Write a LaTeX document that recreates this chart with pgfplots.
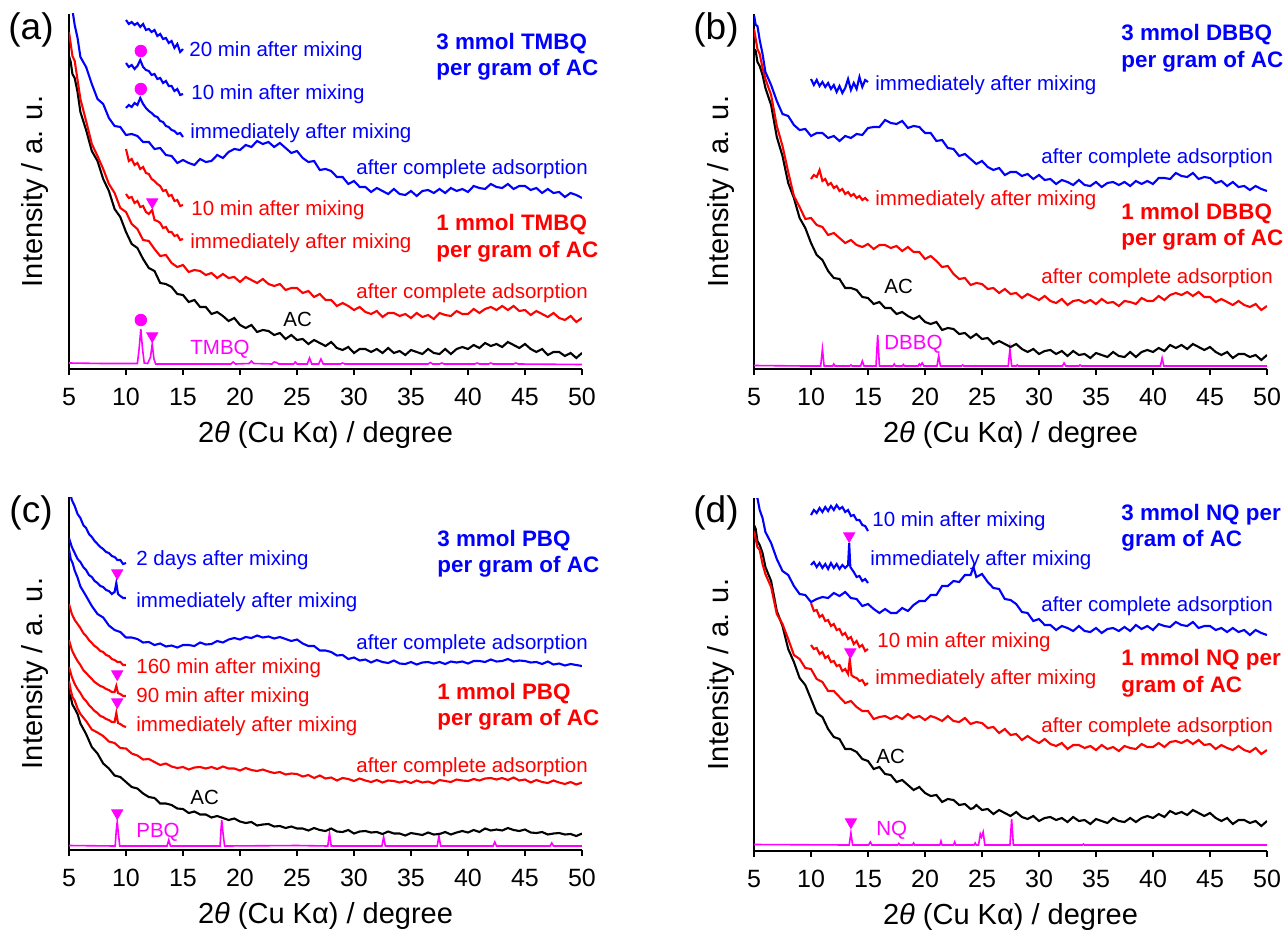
\documentclass[border=0pt]{standalone}
\usepackage{fontspec}
\setmainfont{Liberation Sans}
\usepackage{pgfplots}
\pgfplotsset{compat=1.18}
\usepackage{pgfplotstable}

\definecolor{xblue}{RGB}{0,0,255}
\definecolor{xred}{RGB}{255,0,0}
\definecolor{xmag}{RGB}{255,0,255}

\newcommand\ann{\fontsize{10.25}{12}\selectfont}
\newcommand\bann{\fontsize{11.2}{13}\selectfont\bfseries}
\newcommand\plab{\fontsize{18.5}{20}\selectfont}
\newcommand\axl{\fontsize{14.5}{16}\selectfont}

% columns: x, blue (after complete adsorption), red (after complete adsorption), black (AC)
% y values: height above the x axis, in pixels of the reference
\pgfplotstableread{
x b r k
5.0 402 337 313
5.15 378 325 307
5.3 359 313 295
5.5 344 308 291
5.75 331 289 277
6.0 312 270 257
6.5 302 248 239
7.0 285 225 218
7.5 270 213 208
8.0 265 200 190
8.5 251 185 178
9.0 243 176 160
9.5 242 161 152
10 234 157 137
10.5 235 145 125
11 233 140 121
11.5 227 129 110
12 227 128 101
12.5 220 120 98
13 221 113 86
13.5 214 114 85
14 213 106 82
14.5 206 102 75
15 209 104 74
15.5 206 97 67
16 204 99 69
16.5 210 98 62
17 207 94 62
17.5 208 96 55
18 214 91 57
18.5 211 95 53
19 217 91 48
19.5 220 92 51
20 219 87 44
20.5 224 92 41
21 222 89 44
21.5 228 86 37
22 225 90 39
22.5 227 85 38
23 222 83 34
23.5 226 85 36
24 221 79 30
24.5 216 81 34
25 218 81 29
25.5 211 76 30
26 207 78 25
26.5 208 72 29
27 199 75 26
27.5 200 69 23
28 198 69 27
28.5 192 63 21
29 192 66 19
29.5 185 63 22
30 188 59 16
30.5 182 62 20
31 182 57 20
31.5 177 55 17
32 181 58 20
32.5 178 52 16
33 175 56 21
33.5 180 56 16
34 175 53 18
34.5 174 55 14
35 178 51 19
35.5 173 56 17
36 178 52 15
36.5 179 54 20
37 176 50 16
37.5 180 56 15
38 176 54 20
38.5 181 53 15
39 178 58 20
39.5 180 55 22
40 177 55 20
40.5 183 60 24
41 181 56 21
41.5 180 60 26
42 185 62 23
42.5 182 59 25
43 181 63 22
43.5 185 59 27
44 180 63 24
44.5 183 58 21
45 183 59 25
45.5 179 54 20
46 181 58 17
46.5 176 55 20
47 180 52 14
47.5 176 56 17
48 177 51 17
48.5 172 49 13
49 176 53 16
49.5 174 47 11
50 171 51 16
}\tabA

\pgfplotstableread{
x b r k
5.0 354 340 320
5.15 344 330 318
5.3 343 320 307
5.5 329 315 303
5.75 315 301 294
6.0 297 290 281
6.5 284 274 264
7.0 268 243 232
7.5 255 223 213
8.0 253 197 186
8.5 244 173 171
9.0 239 162 151
9.5 240 150 141
10 233 151 126
10.5 236 144 114
11 236 142 109
11.5 231 134 98
12 233 136 91
12.5 228 131 90
13 233 126 81
13.5 231 129 81
14 235 124 79
14.5 234 122 72
15 241 125 71
15.5 242 120 65
16 242 124 67
16.5 249 124 61
17 246 121 61
17.5 245 123 55
18 248 118 57
18.5 241 122 53
19 243 117 50
19.5 242 117 53
20 236 110 47
20.5 236 113 45
21 228 108 47
21.5 229 102 39
22 221 103 41
22.5 220 95 40
23 213 90 35
23.5 215 91 36
24 210 84 31
24.5 205 86 35
25 208 85 30
25.5 202 80 31
26 199 81 25
26.5 201 76 28
27 194 80 25
27.5 197 75 22
28 197 76 25
28.5 193 71 20
29 195 75 17
29.5 190 72 20
30 194 69 15
30.5 189 73 18
31 190 68 19
31.5 185 66 15
32 189 70 18
32.5 187 64 13
33 184 68 18
33.5 189 69 14
34 184 66 15
34.5 183 69 11
35 187 65 16
35.5 182 70 14
36 186 66 12
36.5 187 67 17
37 184 63 13
37.5 187 68 12
38 183 67 17
38.5 188 65 12
39 185 71 17
39.5 188 68 19
40 185 68 17
40.5 191 73 21
41 191 69 18
41.5 190 74 24
42 196 76 21
42.5 193 74 24
43 192 77 20
43.5 196 73 25
44 190 77 22
44.5 192 72 19
45 191 72 22
45.5 186 67 17
46 188 70 14
46.5 183 67 17
47 187 64 11
47.5 182 68 15
48 183 64 15
48.5 179 62 12
49 183 65 14
49.5 180 59 9
50 178 63 14
}\tabB

\pgfplotstableread{
x b r k
5.0 301 169 157
5.15 291 160 153
5.3 287.5 153 145.5
5.5 279.5 149.5 141.5
5.75 272.5 141.5 136
6.0 263.5 136 126.5
6.5 254 129 116
7.0 244 120.5 103
7.5 236 117.5 96.5
8.0 232.5 114 86.5
8.5 224.5 108.5 81.5
9.0 220 107 74.5
9.5 218 102 73
10 212.5 101.5 68
10.5 212.5 96.5 63
11 211 94.5 61.5
11.5 207.5 90.5 56.5
12 208 91 53
12.5 205 88 52
13 206.5 85 46.5
13.5 203.5 86.5 46.5
14 204.5 83.5 45
14.5 202.5 82 41.5
15 205 83 41
15.5 205 80.5 37
16 204 82.5 38.5
16.5 207.5 83 35.5
17 205.5 81.5 35.5
17.5 206 83 32.5
18 209 81 34
18.5 207.5 83.5 32
19 210.5 81.5 30
19.5 212 81.5 31.5
20 210.5 79.5 28.5
20.5 213 82 27
21 212 80 28
21.5 214.5 79 24.5
22 212.5 80.5 25.5
22.5 213.5 78.5 26
23 211.5 77 23.5
23.5 213 78 24
24 211 75.5 22
24.5 209 76.5 23.5
25 210.5 76 21.5
25.5 206.5 73.5 21.5
26 204 75 19.5
26.5 204 72 22
27 199.5 74.5 20
27.5 199.5 71.5 19
28 198 72.5 21.5
28.5 194.5 69.5 18.5
29 195 72 18
29.5 191 71 20
30 192.5 69 16.5
30.5 189.5 71.5 18.5
31 190.5 69.5 19
31.5 187.5 68 17.5
32 190 70 18
32.5 188 67.5 16
33 187 69.5 18.5
33.5 189.5 69 16.5
34 186.5 67.5 16.5
34.5 186 69 14.5
35 188 67 17
35.5 185.5 69.5 16
36 187.5 67.5 15
36.5 188 68.5 17.5
37 186.5 66.5 15.5
37.5 188 70 16
38 186 69 18
38.5 188.5 68 15.5
39 187.5 70.5 17.5
39.5 188.5 69.5 19
40 186.5 69 17.5
40.5 189 71 20
41 189 69.5 18
41.5 188 71.5 21.5
42 190.5 72 19.5
42.5 188.5 70.5 20.5
43 189 72 19.5
43.5 191 70 22
44 188.5 72.5 20
44.5 189.5 69.5 19
45 189 70.5 20.5
45.5 187.5 67.5 17.5
46 188 70 17
46.5 186 68 18
47 188.5 67 15.5
47.5 185.5 69.5 16.5
48 186.5 67.5 17
48.5 184.5 66 15.5
49 186 68 16
49.5 185 65.5 14
50 184 67.5 16.5
}\tabC

\pgfplotstableread{
x b r k
5.0 372 320 326
5.15 354 312 322
5.3 353 304 310
5.5 341 301 306
5.75 333 287 298
6.0 319 277 284
6.5 308 264 270
7.0 292 237 240
7.5 280 227 225
8.0 276 212 202
8.5 265 196 189
9.0 257 192 173
9.5 256 183 166
10 249 182 152
10.5 252 172 138
11 254 169 134
11.5 253 160 122
12 258 160 114
12.5 255 154 112
13 259 148 102
13.5 253 150 102
14 252 144 99
14.5 245 140 92
15 247 140 90
15.5 242 132 82
16 238 134 84
16.5 242 135 77
17 238 132 76
17.5 238 135 69
18 243 132 71
18.5 240 137 66
19 246 133 61
19.5 250 135 64
20 250 131 58
20.5 256 135 55
21 256 133 56
21.5 265 130 49
22 265 135 52
22.5 270 130 51
23 269 129 46
23.5 276 133 47
24 276 127 42
24.25 284 128 43
24.5 274 129 46
25 277 128 41
25.5 269 123 42
26 263 124 37
26.5 262 118 41
27 252 122 38
27.5 251 116 35
28 247 117 39
28.5 239 111 34
29 238 115 32
29.5 230 111 35
30 232 108 30
30.5 226 112 33
31 226 107 34
31.5 221 105 31
32 225 108 33
32.5 223 102 29
33 220 106 34
33.5 225 106 30
34 220 103 31
34.5 219 105 27
35 223 101 32
35.5 218 106 30
36 222 102 28
36.5 223 104 33
37 220 100 30
37.5 224 105 29
38 220 103 33
38.5 226 102 29
39 222 107 33
39.5 225 104 35
40 221 104 33
40.5 227 108 37
41 225 104 34
41.5 224 109 40
42 229 110 37
42.5 226 108 39
43 225 111 36
43.5 229 107 41
44 223 111 38
44.5 225 106 35
45 225 107 38
45.5 221 102 33
46 223 106 30
46.5 219 103 33
47 223 101 27
47.5 219 105 31
48 221 101 31
48.5 216 99 28
49 221 103 30
49.5 218 97 25
50 216 101 30
}\tabD

\pgfplotsset{
  xrd/.style={
    scale only axis, width=256.5pt,
    xmin=5, xmax=50, ymin=0,
    axis x line=bottom, axis y line=left,
    axis line style={-, line width=1pt},
    xtick={5,10,...,50}, ytick=\empty,
    tick align=outside, major tick length=3pt,
    tick style={line width=1pt, black},
    /pgf/number format/assume math mode=true,
    tick label style={font=\fontsize{12.5}{14}\selectfont},
    xticklabel style={yshift=-3pt},
    xlabel={2\textit{θ} (Cu Kα) / degree},
    ylabel={Intensity / a. u.},
    every axis x label/.style={at={(axis description cs:0.5,-0.186)}, anchor=center, font=\axl},
    every axis y label/.style={at={(axis description cs:-0.0653,0.5)}, rotate=90, anchor=center, font=\axl},
    clip=true,
  },
  bl/.style={xblue, line width=1.05pt},
  rd/.style={xred, line width=1.05pt},
  bk/.style={black, line width=1.05pt},
  mg/.style={xmag, line width=0.8pt},
  circ/.style={only marks, mark=*, mark size=2.9pt, mark options={fill=xmag, draw=xmag}},
  tri/.style={only marks, mark=triangle*, mark size=3.2pt, mark options={fill=xmag, draw=xmag, rotate=180}},
}

\begin{document}
\begin{tikzpicture}
\useasboundingbox (0,0) rectangle (642.5pt,-465.5pt);

% ---------- (a) TMBQ ----------
\begin{axis}[xrd, at={(34.5pt,-184.5pt)}, anchor=south west, height=177.5pt, ymax=355]
\addplot[mg] coordinates {(5,6) (8,5.5) (11.0,5.5) (11.15,20) (11.3,40) (11.45,20) (11.6,6) (11.9,5.5) (12.15,12) (12.3,25) (12.45,10) (12.6,5) (19.2,5) (19.4,7) (19.6,5) (20.8,5.5) (21.0,8) (21.2,5.5) (22.8,5) (23.0,7) (23.2,6.5) (23.4,5) (24.7,5) (24.85,7) (25.0,5) (25.9,5) (26.1,11) (26.3,5) (26.9,5) (27.1,10) (27.3,5) (28.8,5) (29,6) (29.2,5) (36.5,5) (36.7,6.5) (36.9,5) (37.5,5) (37.7,6) (37.9,5) (40.6,5) (40.8,6) (41,5) (41.8,5) (42,6) (42.2,5) (44,5) (44.2,6) (44.4,5) (50,4.5)};
\addplot[bk] table[x=x,y=k] {\tabA};
\addplot[rd] table[x=x,y=r] {\tabA};
\addplot[bl] table[x=x,y=b] {\tabA};
\addplot[bl] coordinates {(10,349) (10.25,345) (10.5,347) (10.75,344) (11,346) (11.25,342) (11.5,345) (11.75,339) (12,340) (12.25,337) (12.5,339) (12.75,333) (13,335) (13.25,330) (13.5,331) (13.75,326) (14,328) (14.25,321) (14.5,325) (14.75,317) (15,320)};
\addplot[bl] coordinates {(10,306) (10.25,302) (10.5,304) (10.75,300) (11,303) (11.25,309) (11.5,302) (11.75,299) (12,298) (12.25,294) (12.5,295) (12.75,290) (13,291) (13.25,286) (13.5,288) (13.75,283) (14,283) (14.25,278) (14.5,280) (14.75,274) (15,275)};
\addplot[bl] coordinates {(10,261) (10.25,264) (10.5,262) (10.75,266) (11,264) (11.25,271) (11.5,265) (11.75,261) (12,258) (12.25,256) (12.5,253) (12.75,252) (13,248) (13.25,247) (13.5,243) (13.75,242) (14,239) (14.25,238) (14.5,235) (14.75,236) (15,232)};
\addplot[rd] coordinates {(10,220) (10.25,208) (10.5,210) (10.75,204) (11,206) (11.25,200) (11.5,202) (11.75,196) (12,195) (12.25,190) (12.5,188) (12.75,185) (13,183) (13.25,178) (13.5,179) (13.75,173) (14,174) (14.25,168) (14.5,169) (14.75,163) (15,164)};
\addplot[rd] coordinates {(10,175) (10.25,171) (10.5,172) (10.75,166) (11,168) (11.25,162) (11.5,163) (11.75,157) (12,155) (12.3,159) (12.5,149) (12.75,148) (13,146) (13.25,141) (13.5,142) (13.75,137) (14,137) (14.25,133) (14.5,134) (14.75,129) (15,130)};
\addplot[circ] coordinates {(11.3,49) (11.3,318) (11.3,280)};
\addplot[tri] coordinates {(12.3,33) (12.3,167)};
\end{axis}

% ---------- (b) DBBQ ----------
\begin{axis}[xrd, at={(377pt,-184.5pt)}, anchor=south west, height=177.5pt, ymax=355]
\addplot[mg] coordinates {(5,3.5) (9.5,3) (10.85,3) (11.0,20) (11.15,3) (11.9,3) (12.0,5) (12.1,3) (13.4,3) (13.5,4) (13.6,3) (14.35,3) (14.5,8) (14.65,3) (15.7,3) (15.85,34) (16.0,3) (17.2,3) (17.3,5) (17.4,3) (18.0,3) (18.1,4.5) (18.2,3) (19.4,3) (19.5,5) (19.6,3.5) (19.75,6) (19.9,3) (21.05,3) (21.2,13) (21.35,3) (23.2,3) (23.3,4) (23.4,3) (27.3,3) (27.45,20) (27.6,3) (28.0,3) (28.1,4) (28.2,3) (32.05,3) (32.2,6) (32.35,3) (33.5,3) (33.6,4) (33.7,3) (40.65,3) (40.8,11) (40.95,3) (50,3)};
\addplot[bk] table[x=x,y=k] {\tabB};
\addplot[rd] table[x=x,y=r] {\tabB};
\addplot[bl] table[x=x,y=b] {\tabB};
\addplot[bl] coordinates {(10,290) (10.25,284) (10.5,289) (10.75,283) (11,287) (11.25,282) (11.5,286) (11.75,280) (12,284) (12.25,277) (12.5,283) (12.75,276) (13,281) (13.25,290) (13.5,279) (13.75,286) (14,280) (14.25,292) (14.5,282) (14.75,289) (15,287)};
\addplot[rd] coordinates {(10,190) (10.25,194) (10.5,192) (10.75,199) (11,188) (11.25,190) (11.5,184) (11.75,186) (12,181) (12.25,183) (12.5,178) (12.75,180) (13,175) (13.25,177) (13.5,173) (13.75,175) (14,171) (14.25,173) (14.5,169) (14.75,171) (15,168)};
\end{axis}

% ---------- (c) PBQ ----------
\begin{axis}[xrd, at={(34.5pt,-425pt)}, anchor=south west, height=176.5pt, ymax=353]
\addplot[mg] coordinates {(5,4.5) (9.05,4) (9.15,20) (9.23,28) (9.32,18) (9.45,4) (13.6,4) (13.75,10) (13.9,4) (18.25,4) (18.33,20) (18.4,30) (18.5,18) (18.65,4) (25,4.5) (27.7,4) (27.85,17) (28.0,4) (32.45,4) (32.6,13) (32.75,4) (37.3,4) (37.45,14) (37.6,4) (42.2,4) (42.35,8) (42.5,4) (47.2,4) (47.35,7) (47.5,4) (50,4)};
\addplot[bk] table[x=x,y=k] {\tabC};
\addplot[rd] table[x=x,y=r] {\tabC};
\addplot[bl] table[x=x,y=b] {\tabC};
\addplot[bl] coordinates {(5.0,362) (5.25,350) (5.5,344) (5.75,336) (6.0,332) (6.25,325) (6.5,322) (6.75,316) (7.0,313) (7.25,309) (7.5,306) (7.75,303) (8.0,301) (8.25,298) (8.5,297) (8.75,294) (9.0,293) (9.25,290) (9.5,290) (9.75,286) (10,287)};
\addplot[bl] coordinates {(5.0,312) (5.25,303) (5.5,297) (5.75,291) (6.0,288) (6.25,283) (6.5,280) (6.75,275) (7.0,273) (7.25,269) (7.5,267) (7.75,264) (8.0,263) (8.25,260) (8.5,259) (8.75,256) (9.0,258) (9.15,267) (9.3,256) (9.5,254) (9.75,252) (10,252)};
\addplot[rd] coordinates {(5.0,246) (5.25,236) (5.5,230) (5.75,226) (6.0,222) (6.25,217) (6.5,214) (6.75,210) (7.0,207) (7.25,204) (7.5,202) (7.75,199) (8.0,198) (8.25,195) (8.5,194) (8.75,191) (9.0,190) (9.25,188) (9.5,188) (9.75,185) (10,185)};
\addplot[rd] coordinates {(5.0,210) (5.25,200) (5.5,194) (5.75,189) (6.0,185) (6.25,180) (6.5,177) (6.75,174) (7.0,171) (7.25,168) (7.5,166) (7.75,164) (8.0,163) (8.25,161) (8.5,160) (8.75,158) (9.0,158) (9.15,164) (9.3,157) (9.5,156) (9.75,154) (10,154)};
\addplot[rd] coordinates {(5.0,183) (5.25,173) (5.5,166) (5.75,161) (6.0,157) (6.25,152) (6.5,149) (6.75,145) (7.0,142) (7.25,139) (7.5,137) (7.75,134) (8.0,133) (8.25,131) (8.5,130) (8.75,128) (9.0,128) (9.15,137) (9.3,127) (9.5,126) (9.75,124) (10,123)};
\addplot[tri] coordinates {(9.23,277) (9.23,176) (9.23,148) (9.23,37)};
\end{axis}

% ---------- (d) NQ ----------
\begin{axis}[xrd, at={(377pt,-425.5pt)}, anchor=south west, height=176.5pt, ymax=353]
\addplot[mg] coordinates {(5,6.5) (13.35,6) (13.5,18) (13.65,6) (15.05,6) (15.2,9) (15.35,6) (17.6,6) (17.7,7.5) (17.8,6) (18.9,6) (19.0,8) (19.1,6) (21.3,6) (21.4,10) (21.5,6) (22.5,6) (22.6,9) (22.7,6) (24.3,6) (24.4,8) (24.5,6) (24.7,6) (24.85,17) (24.95,14) (25.1,19) (25.25,6) (27.45,6) (27.6,32) (27.75,6) (33.8,6) (33.9,7) (34,6) (50,6)};
\addplot[bk] table[x=x,y=k] {\tabD};
\addplot[rd] table[x=x,y=r] {\tabD};
\addplot[bl] table[x=x,y=b] {\tabD};
\addplot[bl] coordinates {(10,336) (10.25,341) (10.5,338) (10.75,343) (11,339) (11.25,344) (11.5,340) (11.75,345) (12,341) (12.25,346) (12.5,342) (12.75,344) (13,339) (13.25,341) (13.5,335) (13.75,336) (14,331) (14.25,331) (14.5,326) (14.75,325) (15,320)};
\addplot[bl] coordinates {(10,286) (10.25,289) (10.5,284) (10.75,288) (11,283) (11.25,287) (11.5,282) (11.75,288) (12,283) (12.25,287) (12.5,282) (12.75,286) (13,283) (13.25,286) (13.35,308) (13.45,284) (13.75,279) (14,274) (14.25,275) (14.5,270) (14.75,272) (15,268)};
\addplot[rd] coordinates {(10,248) (10.25,240) (10.5,241) (10.75,234) (11,236) (11.25,230) (11.5,231) (11.75,225) (12,227) (12.25,221) (12.5,222) (12.75,216) (13,218) (13.25,212) (13.5,214) (13.75,207) (14,210) (14.25,204) (14.5,206) (14.75,200) (15,202)};
\addplot[rd] coordinates {(10,206) (10.25,202) (10.5,203) (10.75,197) (11,199) (11.25,193) (11.5,195) (11.75,189) (12,190) (12.25,185) (12.5,186) (12.75,180) (13,182) (13.25,177) (13.4,192) (13.55,176) (13.75,174) (14,173) (14.25,170) (14.5,171) (14.75,166) (15,168)};
\addplot[tri] coordinates {(13.35,315) (13.45,199) (13.5,29)};
\end{axis}

% ---------- annotations (reference pixel coordinates, origin top left) ----------
\begin{scope}[x=0.5pt, y=-0.5pt, every node/.style={inner sep=0pt, text height=0.72em, text depth=0pt}]
% (a)
\node[font=\plab] at (31,32) {(a)};
\node[anchor=west, text=xblue, font=\ann] at (189,49) {20 min after mixing};
\node[anchor=west, text=xblue, font=\ann] at (191,92) {10 min after mixing};
\node[anchor=west, text=xblue, font=\ann] at (190,131) {immediately after mixing};
\node[anchor=west, text=xblue, font=\ann] at (356,167) {after complete adsorption};
\node[anchor=west, text=xred, font=\ann] at (191,208) {10 min after mixing};
\node[anchor=west, text=xred, font=\ann] at (190,241) {immediately after mixing};
\node[anchor=west, text=xred, font=\ann] at (356,291) {after complete adsorption};
\node[anchor=west, font=\ann] at (283,319) {AC};
\node[anchor=west, text=xmag, font=\ann] at (190,347) {TMBQ};
\node[anchor=west, text=xblue, font=\bann] at (436,42) {3 mmol TMBQ};
\node[anchor=west, text=xblue, font=\bann] at (436,68) {per gram of AC};
\node[anchor=west, text=xred, font=\bann] at (436,223) {1 mmol TMBQ};
\node[anchor=west, text=xred, font=\bann] at (436,250) {per gram of AC};
% (b)
\node[font=\plab] at (716,32) {(b)};
\node[anchor=west, text=xblue, font=\ann] at (875,83) {immediately after mixing};
\node[anchor=west, text=xblue, font=\ann] at (1041,156) {after complete adsorption};
\node[anchor=west, text=xred, font=\ann] at (875,198) {immediately after mixing};
\node[anchor=west, text=xred, font=\ann] at (1041,276) {after complete adsorption};
\node[anchor=west, font=\ann] at (884,286) {AC};
\node[anchor=west, text=xmag, font=\ann] at (884,342) {DBBQ};
\node[anchor=west, text=xblue, font=\bann] at (1121,33) {3 mmol DBBQ};
\node[anchor=west, text=xblue, font=\bann] at (1121,60) {per gram of AC};
\node[anchor=west, text=xred, font=\bann] at (1121,212) {1 mmol DBBQ};
\node[anchor=west, text=xred, font=\bann] at (1121,238) {per gram of AC};
% (c)
\node[font=\plab] at (31,515) {(c)};
\node[anchor=west, text=xblue, font=\ann] at (136,558) {2 days after mixing};
\node[anchor=west, text=xblue, font=\ann] at (136,600) {immediately after mixing};
\node[anchor=west, text=xblue, font=\ann] at (356,642) {after complete adsorption};
\node[anchor=west, text=xred, font=\ann] at (136,666) {160 min after mixing};
\node[anchor=west, text=xred, font=\ann] at (136,695) {90 min after mixing};
\node[anchor=west, text=xred, font=\ann] at (136,724) {immediately after mixing};
\node[anchor=west, text=xred, font=\ann] at (356,765) {after complete adsorption};
\node[anchor=west, font=\ann] at (190,797) {AC};
\node[anchor=west, text=xmag, font=\ann] at (136,830) {PBQ};
\node[anchor=west, text=xblue, font=\bann] at (437,539) {3 mmol PBQ};
\node[anchor=west, text=xblue, font=\bann] at (437,565) {per gram of AC};
\node[anchor=west, text=xred, font=\bann] at (437,692) {1 mmol PBQ};
\node[anchor=west, text=xred, font=\bann] at (437,718) {per gram of AC};
% (d)
\node[font=\plab] at (716,515) {(d)};
\node[anchor=west, text=xblue, font=\ann] at (872,519) {10 min after mixing};
\node[anchor=west, text=xblue, font=\ann] at (870,558) {immediately after mixing};
\node[anchor=west, text=xblue, font=\ann] at (1041,604) {after complete adsorption};
\node[anchor=west, text=xred, font=\ann] at (877,640) {10 min after mixing};
\node[anchor=west, text=xred, font=\ann] at (875,677) {immediately after mixing};
\node[anchor=west, text=xred, font=\ann] at (1041,725) {after complete adsorption};
\node[anchor=west, font=\ann] at (876,756) {AC};
\node[anchor=west, text=xmag, font=\ann] at (876,828) {NQ};
\node[anchor=west, text=xblue, font=\bann] at (1121,513) {3 mmol NQ per};
\node[anchor=west, text=xblue, font=\bann] at (1121,539) {gram of AC};
\node[anchor=west, text=xred, font=\bann] at (1121,658) {1 mmol NQ per};
\node[anchor=west, text=xred, font=\bann] at (1121,685) {gram of AC};
\end{scope}
\end{tikzpicture}
\end{document}
